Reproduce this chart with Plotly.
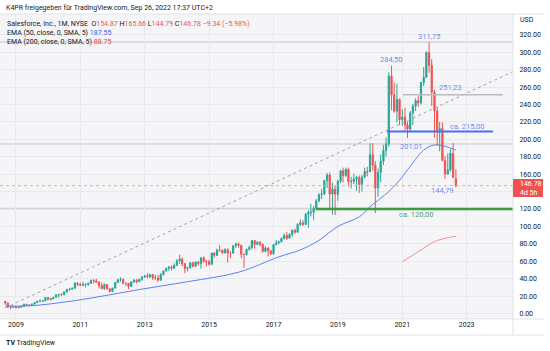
import plotly.graph_objects as go
import pandas as pd

# ---------------- data ----------------
dates = pd.date_range("2008-09-01", periods=169, freq="MS")

opens = [
    13.9, 12.1, 7.7, 7.2,
    8.0, 6.65, 7.4, 8.2, 10.7, 9.5, 9.55, 10.8, 12.7, 14.2, 14.2, 14.5,
    18.4, 15.9, 16.8, 18.6, 21.4, 21.6, 21.5, 24.7, 27.5, 27.9, 29.0, 34.8,
    33.0, 32.3, 33.0, 33.4, 34.6, 38.0, 37.2, 36.2, 32.0, 28.6, 33.3, 28.3,
    25.4, 29.2, 35.7, 38.6, 38.9, 34.7, 34.6, 31.0, 36.2, 38.2, 36.5, 39.4,
    42.0, 43.2, 42.3, 44.7, 41.1, 40.7, 38.2, 44.6, 48.8, 51.9, 53.4, 52.1,
    55.2, 60.5, 62.4, 57.1, 51.6, 52.5, 58.1, 54.3, 59.1, 57.5, 64.0, 59.9,
    59.3, 56.5, 69.3, 66.8, 72.8, 72.6, 69.6, 73.3, 69.4, 69.4, 77.7, 79.7,
    78.4, 68.1, 67.8, 73.8, 75.8, 83.7, 79.4, 81.8, 79.4, 71.3, 75.2, 72.0,
    68.5, 79.1, 81.3, 82.5, 86.1, 89.6, 86.6, 90.8, 95.5, 93.4, 102.3, 104.2,
    102.2, 113.9, 116.3, 116.3, 121.0, 129.4, 136.4, 137.2, 152.6, 159.0, 137.2, 142.8,
    137.0, 152.0, 163.8, 158.4, 165.4, 151.4, 151.7, 154.5, 156.0, 148.4, 156.5, 163.0,
    162.6, 182.3, 170.5, 144.0, 162.0, 174.8, 187.3, 194.8, 272.6, 251.3, 232.3, 245.8,
    222.5, 225.6, 216.5, 211.9, 230.3, 238.1, 244.3, 241.9, 265.3, 271.2, 299.7, 285.0,
    254.1, 232.6, 210.6, 212.3, 175.9, 160.2, 165.0, 184.0, 154.87,
]
highs = [
    14.6, 12.5, 8.6, 8.5,
    8.5, 8.0, 8.7, 11.0, 11.0, 10.3, 11.0, 13.2, 14.5, 16.3, 15.3, 18.7,
    19.0, 17.5, 19.0, 22.3, 22.5, 23.5, 25.5, 28.5, 29.5, 29.8, 36.0, 36.0,
    35.5, 36.5, 34.5, 35.5, 39.0, 39.5, 40.0, 36.8, 35.5, 34.5, 34.0, 28.8,
    29.8, 36.0, 40.0, 41.5, 40.5, 35.5, 35.3, 37.0, 39.5, 39.5, 40.0, 42.5,
    44.5, 46.5, 45.5, 45.0, 44.5, 44.0, 46.5, 49.5, 52.5, 54.5, 55.5, 57.5,
    62.5, 67.5, 64.5, 58.0, 54.0, 59.0, 59.5, 60.0, 60.0, 64.5, 65.5, 61.5,
    61.5, 70.0, 70.5, 74.5, 78.5, 73.5, 75.0, 75.0, 71.5, 78.0, 81.5, 81.5,
    78.5, 68.5, 74.5, 78.0, 84.5, 84.5, 83.0, 83.0, 80.0, 77.5, 76.0, 73.0,
    80.0, 84.5, 83.5, 87.5, 92.0, 93.5, 92.0, 96.5, 97.5, 104.0, 108.0, 107.0,
    115.5, 118.5, 126.0, 123.5, 131.5, 138.0, 143.0, 153.5, 161.5, 162.0, 150.0, 147.5,
    153.5, 165.0, 167.5, 167.5, 167.5, 157.0, 160.5, 158.0, 158.5, 159.0, 167.5, 168.5,
    195.5, 195.5, 175.0, 166.5, 182.5, 193.5, 202.0, 277.0, 284.5, 265.0, 264.0, 247.0,
    234.5, 236.5, 220.5, 232.5, 240.5, 247.0, 249.5, 265.5, 283.0, 301.0, 311.75, 292.0,
    256.5, 237.5, 220.0, 219.5, 181.0, 184.0, 189.0, 195.5, 165.66,
]
lows = [
    10.0, 6.3, 5.2, 6.5,
    6.4, 6.4, 6.7, 7.8, 9.2, 9.0, 9.0, 10.4, 12.3, 13.9, 13.6, 14.4,
    15.6, 15.2, 16.6, 18.5, 18.5, 20.4, 21.2, 23.4, 26.0, 27.5, 28.8, 31.8,
    31.5, 31.6, 30.0, 31.5, 34.0, 34.5, 35.0, 28.8, 28.0, 27.0, 27.5, 24.0,
    24.5, 29.0, 34.8, 36.5, 33.5, 31.5, 28.0, 30.5, 35.0, 34.5, 36.0, 37.5,
    41.0, 40.5, 41.0, 38.5, 38.5, 36.5, 38.0, 44.0, 48.0, 49.0, 49.5, 51.5,
    54.5, 57.0, 54.5, 46.5, 48.5, 51.5, 53.0, 53.5, 55.0, 51.5, 58.5, 54.0,
    55.0, 56.0, 64.0, 66.0, 71.0, 68.5, 69.0, 58.5, 63.5, 68.5, 75.0, 75.5,
    63.5, 52.5, 66.5, 72.0, 73.5, 74.5, 78.5, 77.0, 70.0, 70.5, 65.5, 67.0,
    67.5, 78.5, 79.5, 81.5, 85.0, 84.5, 85.5, 88.0, 91.5, 92.5, 100.5, 100.5,
    101.5, 98.5, 111.5, 107.5, 119.0, 127.5, 131.5, 136.0, 144.0, 119.5, 113.5, 113.0,
    129.5, 149.5, 150.5, 157.0, 146.0, 143.5, 148.5, 141.0, 138.5, 140.0, 155.0, 157.5,
    162.5, 164.0, 115.3, 134.0, 150.5, 170.5, 180.0, 191.5, 233.5, 230.5, 219.5, 216.5,
    215.5, 210.5, 201.5, 208.5, 216.5, 232.5, 237.5, 240.0, 261.0, 270.5, 276.5, 238.5,
    202.0, 193.0, 186.5, 174.5, 154.5, 159.5, 163.0, 156.0, 144.79,
]
closes = [
    12.1, 7.7, 7.2, 8.0,
    6.65, 7.4, 8.2, 10.7, 9.5, 9.55, 10.8, 12.7, 14.2, 14.2, 14.5, 18.4,
    15.9, 16.8, 18.6, 21.4, 21.6, 21.5, 24.7, 27.5, 27.9, 29.0, 34.8, 33.0,
    32.3, 33.0, 33.4, 34.6, 38.0, 37.2, 36.2, 32.0, 28.6, 33.3, 28.3, 25.4,
    29.2, 35.7, 38.6, 38.9, 34.7, 34.6, 31.0, 36.2, 38.2, 36.5, 39.4, 42.0,
    43.2, 42.3, 44.7, 41.1, 40.7, 38.2, 44.6, 48.8, 51.9, 53.4, 52.1, 55.2,
    60.5, 62.4, 57.1, 51.6, 52.5, 58.1, 54.3, 59.1, 57.5, 64.0, 59.9, 59.3,
    56.5, 69.3, 66.8, 72.8, 72.6, 69.6, 73.3, 69.4, 69.4, 77.7, 79.7, 78.4,
    68.1, 67.8, 73.8, 75.8, 83.7, 79.4, 81.8, 79.4, 71.3, 75.2, 72.0, 68.5,
    79.1, 81.3, 82.5, 86.1, 89.6, 86.6, 90.8, 95.5, 93.4, 102.3, 104.2, 102.2,
    113.9, 116.3, 116.3, 121.0, 129.4, 136.4, 137.2, 152.6, 159.0, 137.2, 142.8, 137.0,
    152.0, 163.8, 158.4, 165.4, 151.4, 151.7, 154.5, 156.0, 148.4, 156.5, 163.0, 162.6,
    182.3, 170.5, 144.0, 162.0, 174.8, 187.3, 194.8, 272.6, 251.3, 232.3, 245.8, 222.5,
    225.6, 216.5, 211.9, 230.3, 238.1, 244.3, 241.9, 265.3, 271.2, 299.7, 285.0, 254.1,
    232.6, 210.6, 212.3, 175.9, 160.2, 165.0, 184.0, 156.1, 146.78,
]

ema50_dates = ["2008-09-01", "2009-07-01", "2010-08-01", "2011-08-01", "2012-11-01",
               "2014-05-01", "2015-12-01", "2017-03-01", "2017-11-01", "2018-06-01",
               "2019-01-01", "2019-09-01", "2020-01-01", "2020-08-01", "2020-12-01",
               "2021-03-01", "2021-09-01", "2022-01-01", "2022-05-01", "2022-09-01"]
ema50_vals = [8.6, 9.0, 13.5, 19.3, 27.5, 36.5, 47.4, 65.0, 73.0, 84.0,
              100.0, 111.0, 122.6, 140.0, 153.0, 164.8, 187.7, 193.5, 192.0, 187.55]

ema200_dates = ["2021-01-01", "2021-07-01", "2022-01-01", "2022-05-01", "2022-09-01"]
ema200_vals = [59.5, 71.0, 82.5, 86.3, 88.75]

trend_dates = ["2008-08-28", "2024-06-10"]
trend_vals = [6.3, 277.8]

price_ticks = [0, 20, 40, 60, 80, 100, 120, 140, 160, 180, 200, 220, 240, 260, 280, 300, 320]
year_ticks = ["2009", "2011", "2013", "2015", "2017", "2019", "2021", "2023"]

last_price = 146.78
support_green = 120.0
resist_blue = 209.0
gray_levels_full = [311.75, 194.5, 120.5]
gray_level_short = 251.23

# ---------------- figure ----------------
UP = "#26a69a"
DN = "#ef5350"
TXT = "#131722"
BLUE_T = "#6f8ef0"
FONT = "Roboto"

Y0, Y1 = -6.3, 343.9           # y-axis range
TOP, BOT = 14, 319             # pane top / bottom in pixels


def px_to_paper(py):
    return (BOT - py) / (BOT - TOP)


def val_to_paper(v):
    return (v - Y0) / (Y1 - Y0)


fig = go.Figure()

fig.add_trace(go.Scatter(x=trend_dates, y=trend_vals, mode="lines",
                         line=dict(color="#a3a6ad", width=1, dash="dot"),
                         hoverinfo="skip", showlegend=False))

fig.add_trace(go.Candlestick(
    x=dates, open=opens, high=highs, low=lows, close=closes,
    increasing=dict(line=dict(color=UP, width=1), fillcolor=UP),
    decreasing=dict(line=dict(color=DN, width=1), fillcolor=DN),
    whiskerwidth=0, showlegend=False))

fig.add_trace(go.Scatter(x=ema50_dates, y=ema50_vals, mode="lines",
                         line=dict(color="#5e7ff2", width=1, shape="spline"),
                         showlegend=False))
fig.add_trace(go.Scatter(x=ema200_dates, y=ema200_vals, mode="lines",
                         line=dict(color="#f48a96", width=1, shape="spline"),
                         showlegend=False))

shapes = []
for lv in gray_levels_full:
    shapes.append(dict(type="line", xref="paper", yref="y", x0=0, x1=1, y0=lv, y1=lv,
                       line=dict(color="#d3d4d8", width=1.5), layer="below"))
shapes.append(dict(type="line", xref="x", yref="y", x0="2021-01-08", x1="2024-02-15",
                   y0=gray_level_short, y1=gray_level_short,
                   line=dict(color="#b9bbc0", width=1.5)))
shapes.append(dict(type="line", xref="x", yref="y", x0="2020-07-12", x1="2023-10-26",
                   y0=resist_blue, y1=resist_blue, line=dict(color="#4a6cf0", width=2)))
shapes.append(dict(type="line", xref="x", yref="y", x0="2018-04-25", x1="2024-06-10",
                   y0=support_green, y1=support_green, line=dict(color="#3d9a3f", width=2.5)))
shapes.append(dict(type="line", xref="paper", yref="y", x0=0, x1=1, y0=last_price, y1=last_price,
                   line=dict(color="#f5a3a3", width=1, dash="dot")))
# pane borders
shapes.append(dict(type="line", xref="paper", yref="paper", x0=1, x1=1, y0=px_to_paper(335), y1=1,
                   line=dict(color="#e0e3eb", width=1)))
shapes.append(dict(type="line", xref="paper", yref="paper", x0=0, x1=1.06, y0=1, y1=1,
                   line=dict(color="#e0e3eb", width=1)))
shapes.append(dict(type="line", xref="paper", yref="paper", x0=0, x1=1.06, y0=0, y1=0,
                   line=dict(color="#e0e3eb", width=1)))
shapes.append(dict(type="line", xref="paper", yref="paper", x0=0, x1=1.06,
                   y0=px_to_paper(335), y1=px_to_paper(335),
                   line=dict(color="#e0e3eb", width=1)))
# price label box on the axis
shapes.append(dict(type="rect", xref="paper", yref="paper", x0=1.0, x1=1.0585,
                   y0=px_to_paper(197), y1=px_to_paper(179),
                   fillcolor="#ef5350", line=dict(width=0)))

ann = []


def label(x, y, text, color=BLUE_T, size=7.5):
    ann.append(dict(x=x, y=y, xref="x", yref="y", text=text, showarrow=False,
                    font=dict(family=FONT, size=size, color=color)))


label("2020-09-06", 291.8, "284,50")
label("2021-11-10", 318.6, "311,75")
label("2022-07-05", 259.0, "251,23")
label("2023-01-04", 215.3, "ca. 215,00")
label("2021-04-20", 192.0, "201,01")
label("2022-04-05", 141.0, "144,79")
label("2021-06-06", 113.9, "ca. 120,00", color="#5a9e5a")

ann.append(dict(x=1.01, y=px_to_paper(184.5), xref="paper", yref="paper", text="146.78",
                showarrow=False, xanchor="left", yanchor="middle",
                font=dict(family=FONT, size=7, color="white")))
ann.append(dict(x=1.01, y=px_to_paper(192.5), xref="paper", yref="paper", text="4d 5h",
                showarrow=False, xanchor="left", yanchor="middle",
                font=dict(family=FONT, size=7, color="white")))
ann.append(dict(x=1.01, y=px_to_paper(20.5), xref="paper", yref="paper", text="USD",
                showarrow=False, xanchor="left", yanchor="middle",
                font=dict(family=FONT, size=7, color=TXT)))

R = "#ef5350"
legend_txt = (
    "Salesforce, Inc., 1M, NYSE  O<span style='color:%s'>154.87</span> "
    "H<span style='color:%s'>165.66</span> L<span style='color:%s'>144.79</span> "
    "C<span style='color:%s'>146.78 −9.34 (−5.98%%)</span><br>"
    "EMA (50, close, 0, SMA, 5) <span style='color:#2962ff'>187.55</span><br>"
    "EMA (200, close, 0, SMA, 5) <span style='color:#f23645'>88.75</span>"
) % (R, R, R, R)
ann.append(dict(x=0.012, y=px_to_paper(19), xref="paper", yref="paper", xanchor="left",
                yanchor="top", align="left", text=legend_txt, showarrow=False,
                borderpad=0, font=dict(family=FONT, size=7, color=TXT)))
ann.append(dict(x=0.009, y=px_to_paper(7.5), xref="paper", yref="paper", xanchor="left",
                yanchor="middle", showarrow=False, borderpad=0,
                text="K4PR freigegeben für TradingView.com, Sep 26, 2022 17:37 UTC+2",
                font=dict(family=FONT, size=7, color=TXT)))
ann.append(dict(x=0.009, y=px_to_paper(343.5), xref="paper", yref="paper", xanchor="left",
                yanchor="middle", showarrow=False, borderpad=0,
                text="<b>TV</b> TradingView",
                font=dict(family=FONT, size=7, color=TXT)))

price_text = ["" if v == 140 else f"{v:.2f}" for v in price_ticks]

fig.update_layout(
    width=550, height=351,
    margin=dict(l=0, r=37, t=TOP, b=351 - BOT),
    paper_bgcolor="white", plot_bgcolor="#f5f5f8",
    font=dict(family=FONT, size=7, color=TXT),
    shapes=shapes, annotations=ann,
    showlegend=False,
    xaxis=dict(range=["2008-07-04", "2024-06-10"], rangeslider=dict(visible=False),
               tickvals=[f"{y}-01-01" for y in year_ticks], ticktext=year_ticks,
               showgrid=True, gridcolor="#e8e9ee", gridwidth=1, zeroline=False,
               tickfont=dict(family=FONT, size=7, color=TXT), ticks="", ticklen=0),
    yaxis=dict(range=[Y0, Y1], side="right", tickvals=price_ticks, ticktext=price_text,
               showgrid=True, gridcolor="#e8e9ee", gridwidth=1, zeroline=False,
               tickfont=dict(family=FONT, size=7, color=TXT), ticks="outside", ticklen=4,
               tickcolor="rgba(0,0,0,0)"),
)

fig.write_html("out.html")
